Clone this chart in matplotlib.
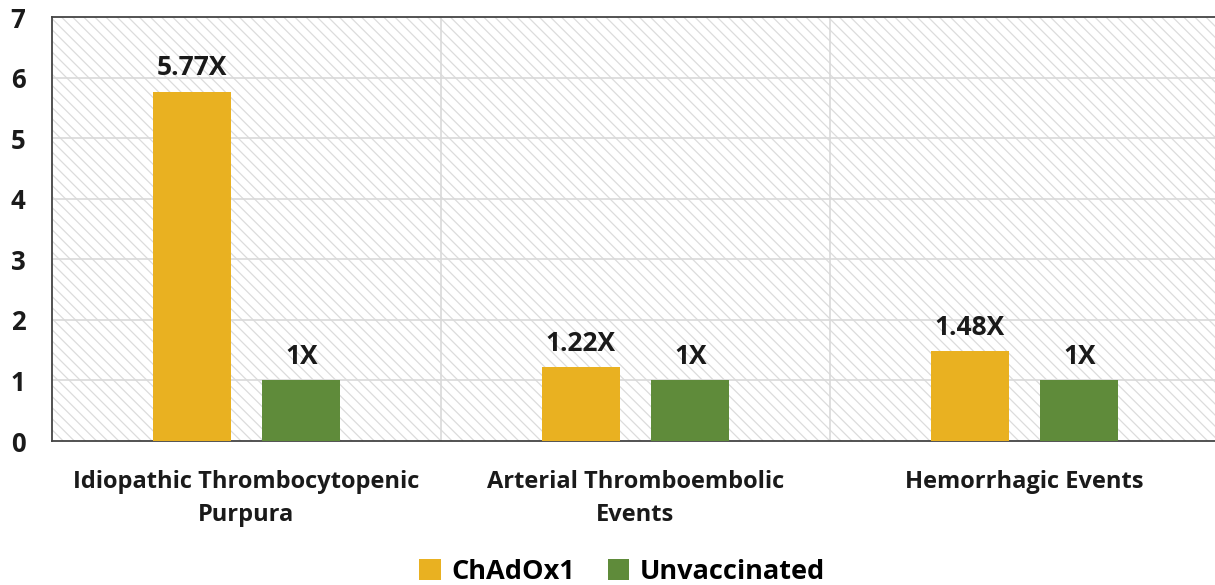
import numpy as np
import matplotlib.pyplot as plt
from matplotlib.patches import Rectangle

# Relative risk by event type
categories = ["Idiopathic Thrombocytopenic\nPurpura",
              "Arterial Thromboembolic\nEvents",
              "Hemorrhagic Events"]
chadox1 = [5.77, 1.22, 1.48]
unvaccinated = [1, 1, 1]
chadox1_labels = ["5.77X", "1.22X", "1.48X"]
unvacc_labels = ["1X", "1X", "1X"]

plt.rcParams['font.family'] = ['Open Sans', 'DejaVu Sans']
plt.rcParams['hatch.color'] = '#dcdcdc'
plt.rcParams['hatch.linewidth'] = 0.9

fig = plt.figure(figsize=(12.15, 5.85), dpi=100)
ax = fig.add_axes([52 / 1215, 144 / 585, 1167 / 1215, 424 / 585])

# hatched plot background
ax.add_patch(Rectangle((0, 0), 1, 1, transform=ax.transAxes, facecolor='white',
                       edgecolor='#dcdcdc', hatch='\\\\\\', linewidth=0, zorder=0))

x = np.arange(len(categories))
w = 0.2
off = 0.141
b1 = ax.bar(x - off, chadox1, w, color='#E9B121', label='ChAdOx1', zorder=3)
b2 = ax.bar(x + off, unvaccinated, w, color='#5F8B3A', label='Unvaccinated', zorder=3)

for rect, txt in zip(b1, chadox1_labels):
    ax.text(rect.get_x() + rect.get_width() / 2, rect.get_height() + 0.17, txt,
            ha='center', va='bottom', fontsize=19, fontweight='bold', color='#1a1a1a')
for rect, txt in zip(b2, unvacc_labels):
    ax.text(rect.get_x() + rect.get_width() / 2, rect.get_height() + 0.17, txt,
            ha='center', va='bottom', fontsize=19, fontweight='bold', color='#1a1a1a')

ax.set_xlim(-0.5, 2.5)
ax.set_ylim(0, 7)
ax.set_yticks(range(0, 8))
ax.set_xticks(x)
ax.set_xticklabels(categories, fontsize=17, fontweight='bold', linespacing=1.5,
                   color='#1a1a1a')
ax.tick_params(axis='y', length=0, pad=19, labelsize=18.5, labelcolor='#1a1a1a')
ax.tick_params(axis='x', length=0, pad=21)
for lbl in ax.get_yticklabels():
    lbl.set_fontweight('bold')

# grid lines
for yv in range(1, 7):
    ax.axhline(yv, color='#d9d9d9', linewidth=1.2, zorder=1)
for xv in [0.5, 1.5]:
    ax.axvline(xv, color='#d9d9d9', linewidth=1.2, zorder=1)

for side in ['left', 'top', 'bottom']:
    ax.spines[side].set_color('#444444')
    ax.spines[side].set_linewidth(1.3)
ax.spines['right'].set_visible(False)

fig.legend(handles=[b1, b2], loc='lower center', bbox_to_anchor=(0.512, -0.042),
           ncol=2, frameon=False, handlelength=0.8, handleheight=0.8,
           handletextpad=0.4, columnspacing=1.2,
           prop={'size': 19.5, 'weight': 'bold'})

fig.savefig('out.png', dpi=100)
